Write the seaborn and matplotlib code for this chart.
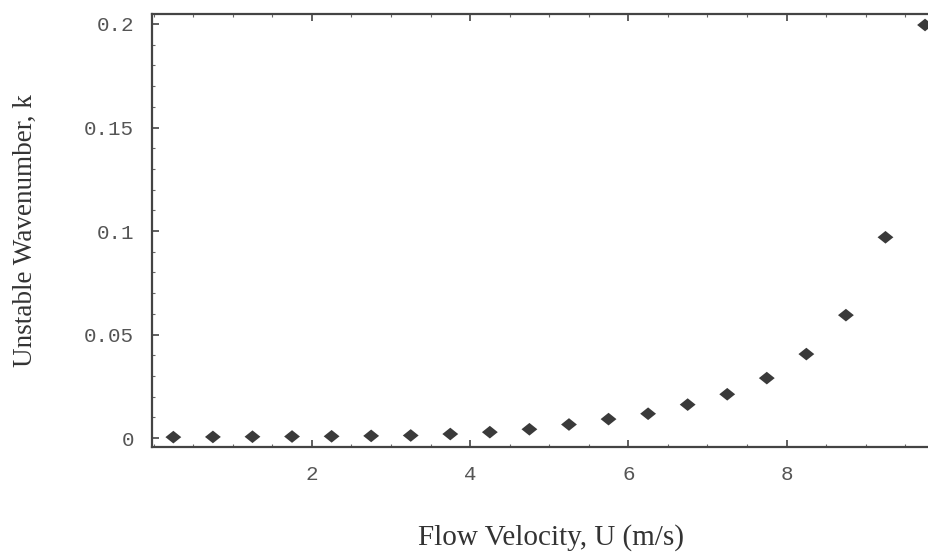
import numpy as np
import pandas as pd
import seaborn as sns
import matplotlib.pyplot as plt
from matplotlib.ticker import MultipleLocator

# flow velocity (m/s) and unstable wavenumber
velocity = [0.25, 0.75, 1.25, 1.75, 2.25, 2.75, 3.25, 3.75, 4.25, 4.75,
            5.25, 5.75, 6.25, 6.75, 7.25, 7.75, 8.25, 8.75, 9.25, 9.75]
wavenumber = [0.0005, 0.0006, 0.0007, 0.0008, 0.0009, 0.0011, 0.0013, 0.0020, 0.0029, 0.0043,
              0.0066, 0.0092, 0.0118, 0.0162, 0.0212, 0.0290, 0.0406, 0.0594, 0.0970, 0.1995]

df = pd.DataFrame({'U': velocity, 'k': wavenumber})

sns.set_style('white')
plt.rcParams['font.family'] = ['Liberation Serif', 'DejaVu Serif']

fig = plt.figure(figsize=(9.29, 5.54), dpi=100)
ax = fig.add_axes([0.1636, 0.193, 0.8364, 0.7817])

diamond = [(-1, 0), (0, 0.8), (1, 0), (0, -0.8), (-1, 0)]
sns.scatterplot(data=df, x='U', y='k', marker=diamond, s=130, color='#3a3a3a',
                edgecolor='none', ax=ax, legend=False)

ax.set_xlim(-0.02, 9.80)
ax.set_ylim(-0.0043, 0.2048)

ax.xaxis.set_major_locator(MultipleLocator(2))
ax.xaxis.set_minor_locator(MultipleLocator(0.5))
ax.yaxis.set_major_locator(MultipleLocator(0.05))
ax.yaxis.set_minor_locator(MultipleLocator(0.01))
ax.set_xticks([2, 4, 6, 8])
ax.set_xticklabels(['2', '4', '6', '8'])
ax.set_yticks([0, 0.05, 0.1, 0.15, 0.2])
ax.set_yticklabels(['0', '0.05', '0.1', '0.15', '0.2'])

for lab in ax.get_xticklabels() + ax.get_yticklabels():
    lab.set_family('Liberation Mono')
    lab.set_fontsize(15)
    lab.set_color('#555555')

ax.tick_params(which='major', direction='in', length=5, width=1.2, color='#444444',
               top=True, left=True, bottom=True, pad=13)
ax.tick_params(which='minor', direction='in', length=2.5, width=0.8, color='#666666',
               top=True, left=True, bottom=True)

for side in ['left', 'top', 'bottom']:
    ax.spines[side].set_color('#444444')
    ax.spines[side].set_linewidth(1.6)
ax.spines['right'].set_visible(False)

ax.set_xlabel('Flow Velocity, U (m/s)', fontsize=21, color='#333333', va='center')
ax.xaxis.set_label_coords(0.514, -0.208)
ax.set_ylabel('Unstable Wavenumber, k', fontsize=19.5, color='#333333', labelpad=33)

plt.savefig('out.png', dpi=100)
